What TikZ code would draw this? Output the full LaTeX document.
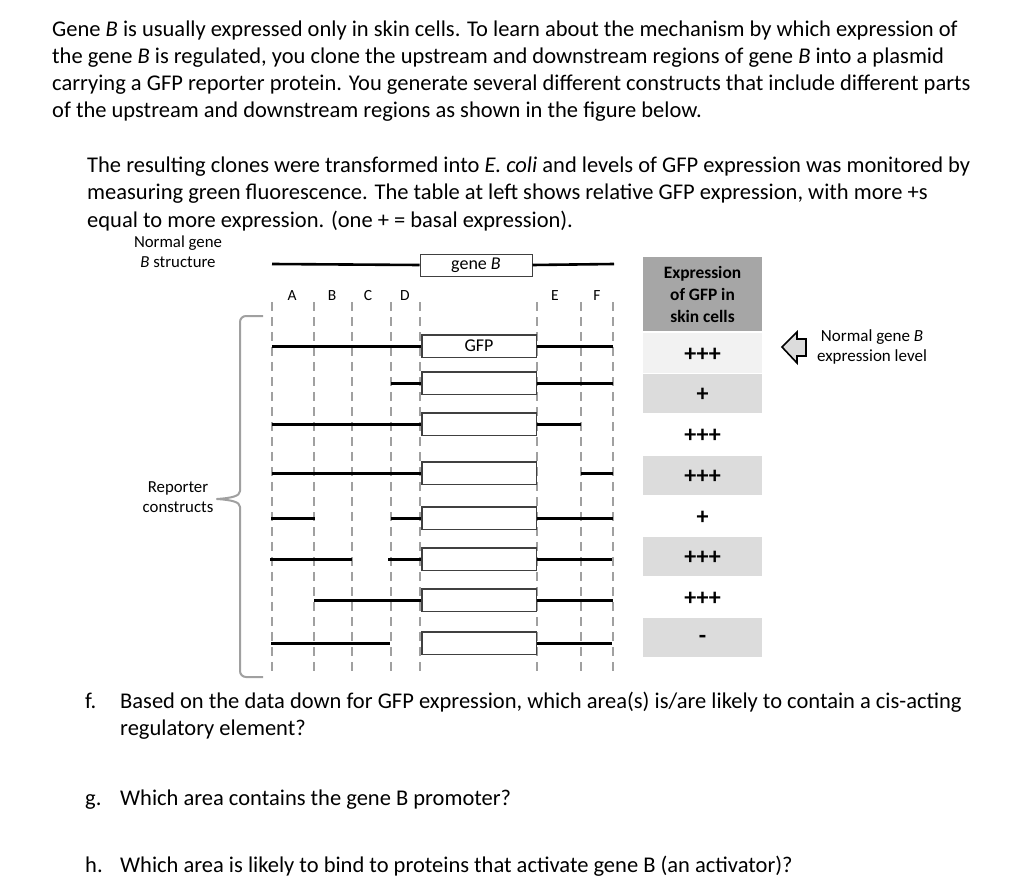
\documentclass[tikz,border=0pt]{standalone}
\usepackage{fontspec}
\setmainfont{Carlito}
\definecolor{dashgray}{HTML}{A0A0A0}
\definecolor{hdrgray}{HTML}{A6A6A6}
\definecolor{rowgray}{HTML}{DCDCDC}
\definecolor{rowlight}{HTML}{F2F2F2}
\begin{document}
\begin{tikzpicture}[x=1pt,y=-1pt,
  para/.style={anchor=base west,inner sep=0pt,font=\fontsize{22.5}{27}\selectfont},
  lbl/.style={inner sep=0pt,font=\fontsize{16.8}{20}\selectfont,align=center},
  colname/.style={inner sep=0pt,font=\fontsize{15.5}{18}\selectfont},
  cut/.style={draw=dashgray,line width=2.3pt,dash pattern=on 9pt off 6pt},
  seg/.style={line width=3pt,black},
  gfpbox/.style={draw=black!75,line width=1pt,fill=white,minimum width=114pt,minimum height=22pt,inner sep=0pt,font=\fontsize{18}{20}\selectfont},
  cell/.style={minimum width=119pt,inner sep=0pt,font=\bfseries\fontsize{24}{26}\selectfont},
  brace/.style={draw=dashgray,line width=2pt,line join=round}
]
\useasboundingbox (0,0) rectangle (1024,877);
\fill[white] (0,0) rectangle (1024,877);

% paragraph 1
\node[para] (p1a) at (52,37) {Gene \textit{B} is usually expressed only in skin cells. To learn about the mechanism by which expression of};
\node[para] (p1b) at (52,64) {the gene \textit{B} is regulated, you clone the upstream and downstream regions of gene \textit{B} into a plasmid};
\node[para] (p1c) at (52,91) {carrying a GFP reporter protein. You generate several different constructs that include different parts};
\node[para] (p1d) at (52,118) {of the upstream and downstream regions as shown in the figure below.};
% paragraph 2
\node[para] (p2a) at (87,173) {The resulting clones were transformed into \textit{E. coli} and levels of GFP expression was monitored by};
\node[para] (p2b) at (87,200) {measuring green fluorescence. The table at left shows relative GFP expression, with more +s};
\node[para] (p2c) at (87,228) {equal to more expression. (one + = basal expression).};

% left labels
\node[lbl] (normal) at (178,252) {Normal gene\\\textit{B} structure};
\node[lbl] (reporter) at (178,497) {Reporter\\constructs};

% brace
\draw[brace] (263,316) -- (246,316) to[out=180,in=90] (240,322) -- (240,491)
  .. controls (240,496) and (232,498) .. (217,499)
  .. controls (232,500) and (240,502) .. (240,507) -- (240,671)
  to[out=-90,in=180] (246,677) -- (263,677);

% region labels
\foreach \n/\x in {A/292,B/332,C/368,D/405,E/555,F/597}
  \node[colname] (lab\n) at (\x,296) {\n};

% dashed cut lines
\foreach \x/\n in {272/c1,314/c2,352/c3,391/c4,420/c5,537/c6,581/c7,613/c8}{
  \coordinate (\n t) at (\x,302);
  \coordinate (\n b) at (\x,673);
  \draw[cut] (\n t) -- (\n b);
}

% normal gene B
\node[gfpbox,minimum width=112pt] (gene) at (476,265) {gene \textit{B}};
\coordinate (gl) at (272,264);
\coordinate (gr) at (614,264);
\draw[line width=2.6pt] (gl) -- (gene.west);
\draw[line width=2.6pt] (gene.east) -- (gr);

% reporter rows: y positions
\def\ya{346}\def\yb{383}\def\yc{424}\def\yd{473}\def\ye{518}\def\yf{559}\def\yg{600}\def\yh{643}
\node[gfpbox] (r1) at (479,\ya) {GFP};
\node[gfpbox] (r2) at (479,\yb) {};
\node[gfpbox] (r3) at (479,\yc) {};
\node[gfpbox] (r4) at (479,\yd) {};
\node[gfpbox] (r5) at (479,\ye) {};
\node[gfpbox] (r6) at (479,\yf) {};
\node[gfpbox] (r7) at (479,\yg) {};
\node[gfpbox] (r8) at (479,\yh) {};

% row 1
\draw[seg] (272,\ya) -- (r1.west); \draw[seg] (r1.east) -- (613,\ya);
% row 2
\draw[seg] (391,\yb) -- (r2.west); \draw[seg] (r2.east) -- (613,\yb);
% row 3
\draw[seg] (272,\yc) -- (r3.west); \draw[seg] (r3.east) -- (581,\yc);
% row 4
\draw[seg] (272,\yd) -- (r4.west); \draw[seg] (581,\yd) -- (613,\yd);
% row 5
\draw[seg] (271,\ye) -- (315,\ye); \draw[seg] (391,\ye) -- (r5.west); \draw[seg] (r5.east) -- (613,\ye);
% row 6
\draw[seg] (270,\yf) -- (352,\yf); \draw[seg] (388,\yf) -- (r6.west); \draw[seg] (r6.east) -- (612,\yf);
% row 7
\draw[seg] (314,\yg) -- (r7.west); \draw[seg] (r7.east) -- (613,\yg);
% row 8
\draw[seg] (271,\yh) -- (390,\yh); \draw[seg] (r8.east) -- (612,\yh);

% redraw box outlines on top of segments
\foreach \r in {r1,r2,r3,r4,r5,r6,r7,r8}
  \draw[draw=black!75,line width=1pt] (\r.south west) rectangle (\r.north east);

% table
\fill[hdrgray] (643,257) rectangle (762,331);
\node[inner sep=0pt,align=center,font=\bfseries\fontsize{17.4}{22}\selectfont] (hdr) at (702.5,294) {Expression\\of GFP in\\skin cells};
\fill[rowlight] (643,333) rectangle (762,373);
\fill[rowgray] (643,374) rectangle (762,413);
\fill[rowgray] (643,456) rectangle (762,495);
\fill[rowgray] (643,537) rectangle (762,576);
\fill[rowgray] (643,618) rectangle (762,657);
\node[cell] (t1) at (702.5,355) {+++};
\node[cell] (t2) at (702.5,395) {+};
\node[cell] (t3) at (702.5,436) {+++};
\node[cell] (t4) at (702.5,477) {+++};
\node[cell] (t5) at (702.5,518) {+};
\node[cell] (t6) at (702.5,558) {+++};
\node[cell] (t7) at (702.5,599) {+++};
\node[cell] (t8) at (702.5,639) {-};

% arrow
\draw[line width=1.6pt,fill=rowgray,line join=miter] (782,347) -- (797,332) -- (797,339) -- (806,339) -- (806,356) -- (797,356) -- (797,363) -- cycle;
\node[lbl,font=\fontsize{17}{19.5}\selectfont] (normlvl) at (872,347) {Normal gene \textit{B}\\expression level};

% questions
\node[para] (qf) at (85,708) {f.};
\node[para] (qfa) at (120,708) {Based on the data down for GFP expression, which area(s) is/are likely to contain a cis-acting};
\node[para] (qfb) at (120,735) {regulatory element?};
\node[para] (qg) at (85,805) {g.};
\node[para] (qga) at (120,805) {Which area contains the gene B promoter?};
\node[para] (qh) at (85,872) {h.};
\node[para] (qha) at (120,872) {Which area is likely to bind to proteins that activate gene B (an activator)?};
\end{tikzpicture}
\end{document}
